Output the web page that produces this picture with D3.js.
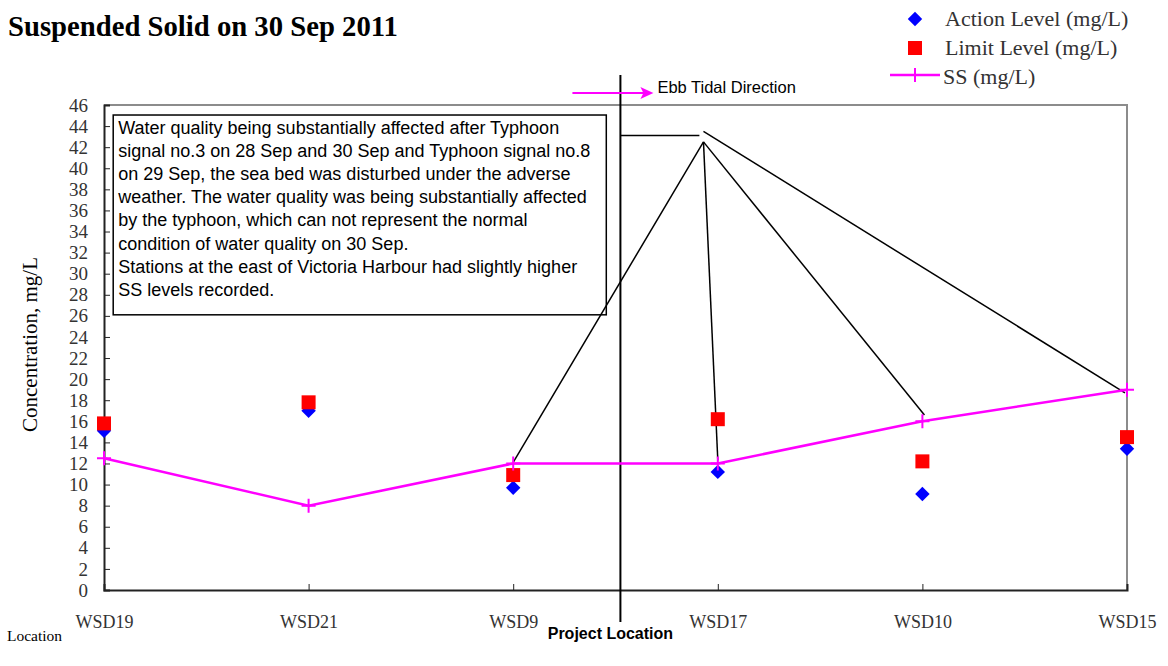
<!DOCTYPE html>
<html>
<head>
<meta charset="utf-8">
<script src="https://cdn.jsdelivr.net/npm/d3@7"></script>
<style>
  body { margin: 0; background: #fff; }
  svg { display: block; }
  .serif { font-family: "Liberation Serif", "Times New Roman", serif; }
  .sans { font-family: "Liberation Sans", Arial, sans-serif; }
</style>
</head>
<body>
<div id="chart"></div>
<script>
// station order along the coast
const locations = ["WSD19", "WSD21", "WSD9", "WSD17", "WSD10", "WSD15"];
const actionLevel = [15.1, 17.0, 9.7, 11.2, 9.1, 13.4];
const limitLevel = [15.8, 17.8, 10.9, 16.2, 12.2, 14.5];
const ssValues = [12.5, 8, 12, 12, 16, 19];
const yTicks = d3.range(0, 47, 2);

const noteLines = [
    "Water quality being substantially affected after Typhoon",
    "signal no.3 on 28 Sep and 30 Sep and Typhoon signal no.8",
    "on 29 Sep, the sea bed was disturbed under the adverse",
    "weather. The water quality was being substantially affected",
    "by the typhoon, which can not represent the normal",
    "condition of water quality on 30 Sep.",
    "Stations at the east of Victoria Harbour had slightly higher",
    "SS levels recorded."
];
// leader lines from the note to the eastern stations (index position, value)
const leaderFrom = [2.93, 42.5];
const leaderTargets = [[2, 12.1], [3, 12.3], [4.01, 16.6]];
const leaderUpper = [[2.93, 43.5], [4.99, 18.7]];
const projectPos = 2.524;

const W = 1168, H = 666;
const margin = { top: 105, right: 41, bottom: 76, left: 104 };
const width = W - margin.left - margin.right;
const height = H - margin.top - margin.bottom;

const svg = d3.select("#chart").append("svg")
    .attr("width", W)
    .attr("height", H);

const x = d3.scalePoint().domain(locations).range([0, width]);
const xi = d3.scaleLinear().domain([0, locations.length - 1]).range([0, width]);
const y = d3.scaleLinear().domain([0, 46]).range([height, 0]);

const g = svg.append("g")
    .attr("transform", `translate(${margin.left},${margin.top})`);

// grey top and right frame
g.append("path")
    .attr("d", `M0,0H${width}V${height}`)
    .attr("fill", "none")
    .attr("stroke", "#8c8c8c")
    .attr("stroke-width", 2);

const yAxis = g.append("g")
    .call(d3.axisLeft(y).tickValues(yTicks).tickSize(-6).tickPadding(16));
yAxis.select(".domain").attr("stroke", "#222").attr("stroke-width", 2);
yAxis.selectAll(".tick line").attr("stroke", "#222");
yAxis.selectAll("text")
    .attr("class", "serif")
    .attr("font-size", 19)
    .attr("fill", "#333");

const xAxis = g.append("g")
    .attr("transform", `translate(0,${height})`)
    .call(d3.axisBottom(x).tickSize(-6).tickPadding(25));
xAxis.select(".domain").attr("stroke", "#222").attr("stroke-width", 2);
xAxis.selectAll(".tick line").attr("stroke", "#222");
xAxis.selectAll("text")
    .attr("class", "serif")
    .attr("font-size", 18)
    .attr("fill", "#333");

// note box
const boxX0 = xi(0.045), boxX1 = xi(2.455);
const boxY0 = y(45.05), boxY1 = y(26.1);
g.append("rect")
    .attr("x", boxX0).attr("y", boxY0)
    .attr("width", boxX1 - boxX0).attr("height", boxY1 - boxY0)
    .attr("fill", "#fff")
    .attr("stroke", "#000")
    .attr("stroke-width", 1.5);

g.append("text")
    .attr("class", "sans")
    .attr("font-size", 18)
    .attr("fill", "#000")
    .selectAll("tspan")
    .data(noteLines)
    .join("tspan")
    .attr("x", boxX0 + 5)
    .attr("y", (d, i) => boxY0 + 19 + i * 23.1)
    .text(d => d);

// project location divider
const px = xi(projectPos);
g.append("line")
    .attr("x1", px).attr("x2", px)
    .attr("y1", -30).attr("y2", height + 32)
    .attr("stroke", "#000")
    .attr("stroke-width", 2);

// leader lines
g.append("line")
    .attr("x1", px).attr("x2", xi(2.91))
    .attr("y1", y(43.1)).attr("y2", y(43.1))
    .attr("stroke", "#000").attr("stroke-width", 1.5);
leaderTargets.forEach(t => {
    g.append("line")
        .attr("x1", xi(leaderFrom[0])).attr("y1", y(leaderFrom[1]))
        .attr("x2", xi(t[0])).attr("y2", y(t[1]))
        .attr("stroke", "#000").attr("stroke-width", 1.5);
});
g.append("line")
    .attr("x1", xi(leaderUpper[0][0])).attr("y1", y(leaderUpper[0][1]))
    .attr("x2", xi(leaderUpper[1][0])).attr("y2", y(leaderUpper[1][1]))
    .attr("stroke", "#000").attr("stroke-width", 1.5);

// ebb tide arrow
g.append("line")
    .attr("x1", px - 48).attr("x2", px + 28)
    .attr("y1", -12).attr("y2", -12)
    .attr("stroke", "#ff00ff").attr("stroke-width", 2);
g.append("path")
    .attr("d", `M${px + 33},-12L${px + 20},-18L${px + 23},-12L${px + 20},-6Z`)
    .attr("fill", "#ff00ff");
g.append("text")
    .attr("class", "sans")
    .attr("x", px + 37).attr("y", -12)
    .attr("font-size", 16.5)
    .text("Ebb Tidal Direction");

// markers
const diamond = d3.symbol().type(d3.symbolSquare).size(104);
const square = d3.symbol().type(d3.symbolSquare).size(196);
const plus = "M-7,0H7M0,-7V7";

g.selectAll(".action")
    .data(actionLevel)
    .join("path")
    .attr("class", "action")
    .attr("d", diamond)
    .attr("transform", (d, i) => `translate(${x(locations[i])},${y(d)}) rotate(45)`)
    .attr("fill", "#0000ff");

g.selectAll(".limit")
    .data(limitLevel)
    .join("path")
    .attr("class", "limit")
    .attr("d", square)
    .attr("transform", (d, i) => `translate(${x(locations[i])},${y(d)})`)
    .attr("fill", "#ff0000");

const line = d3.line()
    .x((d, i) => x(locations[i]))
    .y(d => y(d));

g.append("path")
    .datum(ssValues)
    .attr("d", line)
    .attr("fill", "none")
    .attr("stroke", "#ff00ff")
    .attr("stroke-width", 2.5);

g.selectAll(".ss")
    .data(ssValues)
    .join("path")
    .attr("class", "ss")
    .attr("d", plus)
    .attr("transform", (d, i) => `translate(${x(locations[i])},${y(d)})`)
    .attr("stroke", "#ff00ff")
    .attr("stroke-width", 2);

// titles
svg.append("text")
    .attr("class", "serif")
    .attr("x", 8).attr("y", 36)
    .attr("font-size", 28.7)
    .attr("font-weight", "bold")
    .text("Suspended Solid on 30 Sep 2011");

svg.append("text")
    .attr("class", "serif")
    .attr("transform", `translate(37,${margin.top + height / 2 - 3}) rotate(-90)`)
    .attr("text-anchor", "middle")
    .attr("font-size", 21)
    .text("Concentration, mg/L");

svg.append("text")
    .attr("class", "serif")
    .attr("x", 7).attr("y", 641)
    .attr("font-size", 15.5)
    .text("Location");

svg.append("text")
    .attr("class", "sans")
    .attr("x", margin.left + px - 10).attr("y", 639)
    .attr("text-anchor", "middle")
    .attr("font-size", 16)
    .attr("font-weight", "bold")
    .text("Project Location");

// legend
const legend = svg.append("g").attr("transform", "translate(915,0)");
legend.append("path")
    .attr("d", diamond)
    .attr("transform", "translate(0,19) rotate(45)")
    .attr("fill", "#0000ff");
legend.append("path")
    .attr("d", square)
    .attr("transform", "translate(0,48)")
    .attr("fill", "#ff0000");
legend.append("line")
    .attr("x1", -25).attr("x2", 25)
    .attr("y1", 75).attr("y2", 75)
    .attr("stroke", "#ff00ff").attr("stroke-width", 2.5);
legend.append("path")
    .attr("d", plus)
    .attr("transform", "translate(0,75)")
    .attr("stroke", "#ff00ff").attr("stroke-width", 2);

const legendLabels = ["Action Level (mg/L)", "Limit Level (mg/L)", "SS (mg/L)"];
legend.selectAll(".lbl")
    .data(legendLabels)
    .join("text")
    .attr("class", "serif")
    .attr("x", (d, i) => i === 2 ? 28 : 30)
    .attr("y", (d, i) => 26 + i * 29)
    .attr("font-size", 22)
    .attr("fill", "#333")
    .text(d => d);
</script>
</body>
</html>
